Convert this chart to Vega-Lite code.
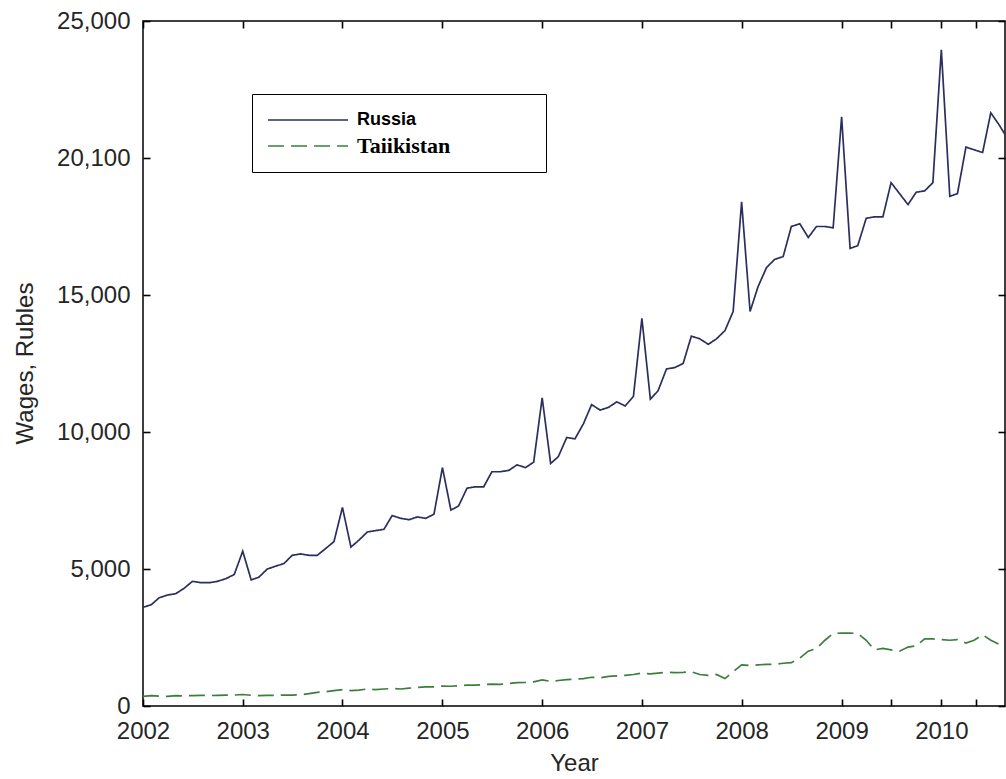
{
  "$schema": "https://vega.github.io/schema/vega-lite/v6.json",
  "width": 862,
  "height": 685,
  "autosize": "none",
  "padding": {"left": 143, "top": 21, "right": 1, "bottom": 73},
  "background": "white",
  "config": {
    "view": {"stroke": "black", "strokeWidth": 1.5},
    "axis": {
      "domain": false, "grid": false,
      "tickColor": "black", "tickWidth": 1.6, "tickSize": -7,
      "labelFont": "Liberation Sans", "labelFontSize": 24, "labelColor": "#262626",
      "titleFont": "Liberation Sans", "titleFontSize": 24, "titleFontWeight": "normal", "titleColor": "#262626",
      "labelFlush": false, "labelOverlap": false
    }
  },
  "datasets": {
    "wages": [
      {"d":"2002-01","c":"Russia","w":3600},{"d":"2002-02","c":"Russia","w":3700},{"d":"2002-03","c":"Russia","w":3950},{"d":"2002-04","c":"Russia","w":4050},{"d":"2002-05","c":"Russia","w":4100},{"d":"2002-06","c":"Russia","w":4300},{"d":"2002-07","c":"Russia","w":4550},{"d":"2002-08","c":"Russia","w":4500},{"d":"2002-09","c":"Russia","w":4500},{"d":"2002-10","c":"Russia","w":4550},{"d":"2002-11","c":"Russia","w":4650},{"d":"2002-12","c":"Russia","w":4800},
      {"d":"2003-01","c":"Russia","w":5650},{"d":"2003-02","c":"Russia","w":4600},{"d":"2003-03","c":"Russia","w":4700},{"d":"2003-04","c":"Russia","w":5000},{"d":"2003-05","c":"Russia","w":5100},{"d":"2003-06","c":"Russia","w":5200},{"d":"2003-07","c":"Russia","w":5500},{"d":"2003-08","c":"Russia","w":5550},{"d":"2003-09","c":"Russia","w":5500},{"d":"2003-10","c":"Russia","w":5500},{"d":"2003-11","c":"Russia","w":5750},{"d":"2003-12","c":"Russia","w":6000},
      {"d":"2004-01","c":"Russia","w":7250},{"d":"2004-02","c":"Russia","w":5800},{"d":"2004-03","c":"Russia","w":6050},{"d":"2004-04","c":"Russia","w":6350},{"d":"2004-05","c":"Russia","w":6400},{"d":"2004-06","c":"Russia","w":6450},{"d":"2004-07","c":"Russia","w":6950},{"d":"2004-08","c":"Russia","w":6850},{"d":"2004-09","c":"Russia","w":6800},{"d":"2004-10","c":"Russia","w":6900},{"d":"2004-11","c":"Russia","w":6850},{"d":"2004-12","c":"Russia","w":7000},
      {"d":"2005-01","c":"Russia","w":8700},{"d":"2005-02","c":"Russia","w":7150},{"d":"2005-03","c":"Russia","w":7300},{"d":"2005-04","c":"Russia","w":7950},{"d":"2005-05","c":"Russia","w":8000},{"d":"2005-06","c":"Russia","w":8000},{"d":"2005-07","c":"Russia","w":8550},{"d":"2005-08","c":"Russia","w":8550},{"d":"2005-09","c":"Russia","w":8600},{"d":"2005-10","c":"Russia","w":8800},{"d":"2005-11","c":"Russia","w":8700},{"d":"2005-12","c":"Russia","w":8900},
      {"d":"2006-01","c":"Russia","w":11250},{"d":"2006-02","c":"Russia","w":8850},{"d":"2006-03","c":"Russia","w":9100},{"d":"2006-04","c":"Russia","w":9800},{"d":"2006-05","c":"Russia","w":9750},{"d":"2006-06","c":"Russia","w":10300},{"d":"2006-07","c":"Russia","w":11000},{"d":"2006-08","c":"Russia","w":10800},{"d":"2006-09","c":"Russia","w":10900},{"d":"2006-10","c":"Russia","w":11100},{"d":"2006-11","c":"Russia","w":10950},{"d":"2006-12","c":"Russia","w":11300},
      {"d":"2007-01","c":"Russia","w":14150},{"d":"2007-02","c":"Russia","w":11200},{"d":"2007-03","c":"Russia","w":11500},{"d":"2007-04","c":"Russia","w":12300},{"d":"2007-05","c":"Russia","w":12350},{"d":"2007-06","c":"Russia","w":12500},{"d":"2007-07","c":"Russia","w":13500},{"d":"2007-08","c":"Russia","w":13400},{"d":"2007-09","c":"Russia","w":13200},{"d":"2007-10","c":"Russia","w":13400},{"d":"2007-11","c":"Russia","w":13700},{"d":"2007-12","c":"Russia","w":14400},
      {"d":"2008-01","c":"Russia","w":18400},{"d":"2008-02","c":"Russia","w":14400},{"d":"2008-03","c":"Russia","w":15300},{"d":"2008-04","c":"Russia","w":16000},{"d":"2008-05","c":"Russia","w":16300},{"d":"2008-06","c":"Russia","w":16400},{"d":"2008-07","c":"Russia","w":17500},{"d":"2008-08","c":"Russia","w":17600},{"d":"2008-09","c":"Russia","w":17100},{"d":"2008-10","c":"Russia","w":17500},{"d":"2008-11","c":"Russia","w":17500},{"d":"2008-12","c":"Russia","w":17450},
      {"d":"2009-01","c":"Russia","w":21500},{"d":"2009-02","c":"Russia","w":16700},{"d":"2009-03","c":"Russia","w":16800},{"d":"2009-04","c":"Russia","w":17800},{"d":"2009-05","c":"Russia","w":17850},{"d":"2009-06","c":"Russia","w":17850},{"d":"2009-07","c":"Russia","w":19100},{"d":"2009-08","c":"Russia","w":18700},{"d":"2009-09","c":"Russia","w":18300},{"d":"2009-10","c":"Russia","w":18750},{"d":"2009-11","c":"Russia","w":18800},{"d":"2009-12","c":"Russia","w":19100},
      {"d":"2010-01","c":"Russia","w":23950},{"d":"2010-02","c":"Russia","w":18600},{"d":"2010-03","c":"Russia","w":18700},{"d":"2010-04","c":"Russia","w":20400},{"d":"2010-05","c":"Russia","w":20300},{"d":"2010-06","c":"Russia","w":20200},{"d":"2010-07","c":"Russia","w":21650},{"d":"2010-08","c":"Russia","w":21200},{"d":"2010-09","c":"Russia","w":20700},
      {"d":"2002-01","c":"Taiikistan","w":350},{"d":"2002-02","c":"Taiikistan","w":380},{"d":"2002-03","c":"Taiikistan","w":360},{"d":"2002-04","c":"Taiikistan","w":350},{"d":"2002-05","c":"Taiikistan","w":380},{"d":"2002-06","c":"Taiikistan","w":370},{"d":"2002-07","c":"Taiikistan","w":380},{"d":"2002-08","c":"Taiikistan","w":390},{"d":"2002-09","c":"Taiikistan","w":380},{"d":"2002-10","c":"Taiikistan","w":390},{"d":"2002-11","c":"Taiikistan","w":400},{"d":"2002-12","c":"Taiikistan","w":400},
      {"d":"2003-01","c":"Taiikistan","w":420},{"d":"2003-02","c":"Taiikistan","w":390},{"d":"2003-03","c":"Taiikistan","w":380},{"d":"2003-04","c":"Taiikistan","w":390},{"d":"2003-05","c":"Taiikistan","w":390},{"d":"2003-06","c":"Taiikistan","w":400},{"d":"2003-07","c":"Taiikistan","w":400},{"d":"2003-08","c":"Taiikistan","w":410},{"d":"2003-09","c":"Taiikistan","w":450},{"d":"2003-10","c":"Taiikistan","w":500},{"d":"2003-11","c":"Taiikistan","w":520},{"d":"2003-12","c":"Taiikistan","w":560},
      {"d":"2004-01","c":"Taiikistan","w":600},{"d":"2004-02","c":"Taiikistan","w":560},{"d":"2004-03","c":"Taiikistan","w":580},{"d":"2004-04","c":"Taiikistan","w":620},{"d":"2004-05","c":"Taiikistan","w":600},{"d":"2004-06","c":"Taiikistan","w":620},{"d":"2004-07","c":"Taiikistan","w":640},{"d":"2004-08","c":"Taiikistan","w":620},{"d":"2004-09","c":"Taiikistan","w":650},{"d":"2004-10","c":"Taiikistan","w":680},{"d":"2004-11","c":"Taiikistan","w":700},{"d":"2004-12","c":"Taiikistan","w":700},
      {"d":"2005-01","c":"Taiikistan","w":730},{"d":"2005-02","c":"Taiikistan","w":720},{"d":"2005-03","c":"Taiikistan","w":740},{"d":"2005-04","c":"Taiikistan","w":760},{"d":"2005-05","c":"Taiikistan","w":760},{"d":"2005-06","c":"Taiikistan","w":780},{"d":"2005-07","c":"Taiikistan","w":800},{"d":"2005-08","c":"Taiikistan","w":790},{"d":"2005-09","c":"Taiikistan","w":820},{"d":"2005-10","c":"Taiikistan","w":850},{"d":"2005-11","c":"Taiikistan","w":860},{"d":"2005-12","c":"Taiikistan","w":880},
      {"d":"2006-01","c":"Taiikistan","w":950},{"d":"2006-02","c":"Taiikistan","w":900},{"d":"2006-03","c":"Taiikistan","w":930},{"d":"2006-04","c":"Taiikistan","w":960},{"d":"2006-05","c":"Taiikistan","w":980},{"d":"2006-06","c":"Taiikistan","w":1000},{"d":"2006-07","c":"Taiikistan","w":1050},{"d":"2006-08","c":"Taiikistan","w":1030},{"d":"2006-09","c":"Taiikistan","w":1080},{"d":"2006-10","c":"Taiikistan","w":1100},{"d":"2006-11","c":"Taiikistan","w":1120},{"d":"2006-12","c":"Taiikistan","w":1150},
      {"d":"2007-01","c":"Taiikistan","w":1200},{"d":"2007-02","c":"Taiikistan","w":1170},{"d":"2007-03","c":"Taiikistan","w":1200},{"d":"2007-04","c":"Taiikistan","w":1230},{"d":"2007-05","c":"Taiikistan","w":1220},{"d":"2007-06","c":"Taiikistan","w":1230},{"d":"2007-07","c":"Taiikistan","w":1250},{"d":"2007-08","c":"Taiikistan","w":1150},{"d":"2007-09","c":"Taiikistan","w":1120},{"d":"2007-10","c":"Taiikistan","w":1150},{"d":"2007-11","c":"Taiikistan","w":1000},{"d":"2007-12","c":"Taiikistan","w":1250},
      {"d":"2008-01","c":"Taiikistan","w":1500},{"d":"2008-02","c":"Taiikistan","w":1480},{"d":"2008-03","c":"Taiikistan","w":1500},{"d":"2008-04","c":"Taiikistan","w":1520},{"d":"2008-05","c":"Taiikistan","w":1520},{"d":"2008-06","c":"Taiikistan","w":1560},{"d":"2008-07","c":"Taiikistan","w":1580},{"d":"2008-08","c":"Taiikistan","w":1750},{"d":"2008-09","c":"Taiikistan","w":2000},{"d":"2008-10","c":"Taiikistan","w":2100},{"d":"2008-11","c":"Taiikistan","w":2400},{"d":"2008-12","c":"Taiikistan","w":2650},
      {"d":"2009-01","c":"Taiikistan","w":2660},{"d":"2009-02","c":"Taiikistan","w":2660},{"d":"2009-03","c":"Taiikistan","w":2650},{"d":"2009-04","c":"Taiikistan","w":2400},{"d":"2009-05","c":"Taiikistan","w":2050},{"d":"2009-06","c":"Taiikistan","w":2100},{"d":"2009-07","c":"Taiikistan","w":2050},{"d":"2009-08","c":"Taiikistan","w":2000},{"d":"2009-09","c":"Taiikistan","w":2150},{"d":"2009-10","c":"Taiikistan","w":2200},{"d":"2009-11","c":"Taiikistan","w":2450},{"d":"2009-12","c":"Taiikistan","w":2450},
      {"d":"2010-01","c":"Taiikistan","w":2420},{"d":"2010-02","c":"Taiikistan","w":2400},{"d":"2010-03","c":"Taiikistan","w":2420},{"d":"2010-04","c":"Taiikistan","w":2300},{"d":"2010-05","c":"Taiikistan","w":2400},{"d":"2010-06","c":"Taiikistan","w":2600},{"d":"2010-07","c":"Taiikistan","w":2400},{"d":"2010-08","c":"Taiikistan","w":2250},{"d":"2010-09","c":"Taiikistan","w":2200}
    ]
  },
  "data": {"name": "wages"},
  "layer": [
    {
      "mark": {"type": "line", "strokeWidth": 1.7, "clip": true},
      "encoding": {
        "x": {
          "field": "d", "type": "temporal",
          "scale": {"type": "utc", "nice": false, "domain": [{"year": 2002, "month": 1, "date": 1, "utc": true}, {"year": 2010, "month": 8, "date": 22, "utc": true}]},
          "axis": {
            "orient": "bottom", "title": "Year", "titleY": 45, "titleBaseline": "top",
            "labelPadding": 20,
            "values": [{"year": 2002, "utc": true}, {"year": 2003, "utc": true}, {"year": 2004, "utc": true}, {"year": 2005, "utc": true}, {"year": 2006, "utc": true}, {"year": 2007, "utc": true}, {"year": 2008, "utc": true}, {"year": 2009, "utc": true}, {"year": 2009, "month": 7, "utc": true}, {"year": 2010, "utc": true}, {"year": 2010, "month": 5, "date": 8, "utc": true}],
            "labelExpr": "utcmonth(datum.value) == 0 ? utcFormat(datum.value, '%Y') : ''"
          }
        },
        "y": {
          "field": "w", "type": "quantitative",
          "scale": {"domain": [0, 25000], "nice": false},
          "axis": {
            "orient": "left", "title": "Wages, Rubles", "titleX": -118, "titleY": 342, "titleAngle": -90, "titleBaseline": "middle",
            "labelPadding": 20,
            "values": [0, 5000, 10000, 15000, 20000, 25000],
            "labelExpr": "datum.value == 20000 ? '20,100' : format(datum.value, ',')"
          }
        },
        "color": {
          "field": "c", "type": "nominal",
          "scale": {"domain": ["Russia", "Taiikistan"], "range": ["#2b2e5e", "#3c7f3c"]},
          "legend": {
            "orient": "none", "legendX": 109, "legendY": 73, "title": null,
            "strokeColor": "black", "fillColor": "white", "padding": 15,
            "symbolType": "M-1,0H7", "symbolSize": 400, "symbolStrokeWidth": 1.5,
            "labelOffset": 68, "rowPadding": 6, "labelLimit": 0,
            "labelFont": "Liberation Sans", "labelFontSize": 19, "labelFontWeight": "bold", "labelColor": "black",
            "encode": {
              "labels": {"update": {
                "text": {"signal": "datum.value == 'Taiikistan' ? datum.value + '\u2800\u2800\u2800\u2800\u2800' : datum.value"},
                "font": {"signal": "datum.value == 'Russia' ? 'Liberation Sans' : 'Liberation Serif'"},
                "fontSize": {"signal": "datum.value == 'Russia' ? 18 : 22"},
                "limit": {"value": 0}
              }}
            }
          }
        },
        "strokeDash": {
          "field": "c", "type": "nominal",
          "scale": {"domain": ["Russia", "Taiikistan"], "range": [[1, 0], [16, 7]]}
        }
      }
    },
    {
      "mark": {"type": "line", "opacity": 0},
      "encoding": {
        "x": {
          "field": "d", "type": "temporal",
          "axis": {
            "orient": "top", "title": null, "labels": false,
            "values": [{"year": 2002, "utc": true}, {"year": 2003, "utc": true}, {"year": 2004, "utc": true}, {"year": 2005, "utc": true}, {"year": 2006, "utc": true}, {"year": 2007, "utc": true}, {"year": 2008, "utc": true}, {"year": 2009, "utc": true}, {"year": 2009, "month": 7, "utc": true}, {"year": 2010, "utc": true}, {"year": 2010, "month": 5, "date": 8, "utc": true}]
          }
        },
        "y": {
          "field": "w", "type": "quantitative",
          "axis": {"orient": "right", "title": null, "labels": false, "values": [0, 5000, 10000, 15000, 20000, 25000]}
        },
        "detail": {"field": "c", "type": "nominal"}
      }
    }
  ],
  "resolve": {"axis": {"x": "independent", "y": "independent"}}
}
